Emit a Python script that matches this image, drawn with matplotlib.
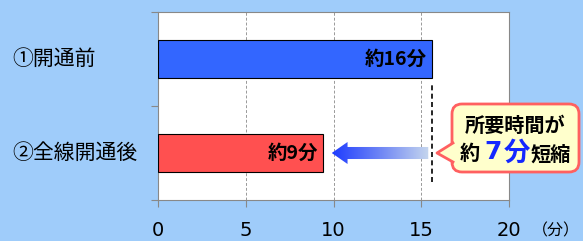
import numpy as np
import matplotlib
matplotlib.use("Agg")
import matplotlib.pyplot as plt
import matplotlib.transforms as mtransforms
from matplotlib.patches import FancyBboxPatch, Polygon
from matplotlib.colors import LinearSegmentedColormap

plt.rcParams['font.family'] = ['Noto Sans CJK JP', 'DejaVu Sans']

# data
categories = ['①開通前', '②全線開通後']
minutes = [15.6, 9.4]
bar_labels = ['約16分', '約9分']
bar_colors = ['#3366FF', '#FF5050']
xticks = [0, 5, 10, 15, 20]

BG = '#9FCCFA'
W, H = 583, 241

fig = plt.figure(figsize=(W / 100, H / 100), dpi=100, facecolor=BG)
ax = fig.add_axes([158 / W, 1 - 200 / H, (509 - 158) / W, (200 - 12) / H])
ax.set_facecolor('white')

# pixel coords (from top-left) -> figure
pix = mtransforms.Affine2D().scale(1 / W, -1 / H).translate(0, 1) + fig.transFigure

# first category on top
ypos = [1, 0]
ax.barh(ypos, minutes, height=0.41, color=bar_colors, edgecolor='black',
        linewidth=0.8, zorder=3)
for y, v, lab in zip(ypos, minutes, bar_labels):
    ax.text(v - 0.3, y, lab, ha='right', va='center', fontsize=14,
            fontweight='bold', zorder=4)

ax.set_xlim(0, 20)
ax.set_ylim(-0.5, 1.5)
ax.set_xticks(xticks)
ax.set_xticklabels([str(t) for t in xticks], fontsize=14, family='DejaVu Sans')
ax.set_yticks([-0.5, 0.5, 1.5])
ax.set_yticklabels([])
ax.tick_params(axis='x', length=5, color='#888888', pad=10)
ax.tick_params(axis='y', length=5, color='#888888')
for s in ax.spines.values():
    s.set_color('#888888')
ax.grid(axis='x', color='#999999', linestyle=(0, (3, 2)), linewidth=0.7, zorder=1)

# category labels
lab_tr = mtransforms.blended_transform_factory(pix, ax.transData)
for y, c in zip(ypos, categories):
    ax.text(12, y, c, transform=lab_tr, ha='left', va='center', fontsize=15,
            clip_on=False)

# dashed reference line at "before" value
ax.plot([minutes[0], minutes[0]], [-0.31, 0.755], color='black', linestyle=(0, (3, 2)),
        linewidth=1.2, zorder=4)

# gradient arrow from before value to after value
x0 = minutes[0] - 0.2
x1 = minutes[1] + 0.5
yc = ypos[1]
sh, hh, hl = 0.064, 0.117, 0.9
arrow = Polygon([(x1, yc), (x1 + hl, yc + hh), (x1 + hl, yc + sh), (x0, yc + sh),
                 (x0, yc - sh), (x1 + hl, yc - sh), (x1 + hl, yc - hh)],
                closed=True, facecolor='none', edgecolor='none', transform=ax.transData)
ax.add_patch(arrow)
cmap = LinearSegmentedColormap.from_list('arr', ['#1E3CFF', '#6F86F5', '#C5D6EE'])
grad = np.linspace(0, 1, 256).reshape(1, -1)
im = ax.imshow(grad, cmap=cmap, aspect='auto', extent=[x1, x0, yc - hh, yc + hh],
               zorder=4, interpolation='bilinear')
im.set_clip_path(arrow)
ax.set_xlim(0, 20)
ax.set_ylim(-0.5, 1.5)

# callout box
box = FancyBboxPatch((452, 104), 127, 68, boxstyle='round,pad=0,rounding_size=10',
                     facecolor='#FFFFCC', edgecolor='#FF6060', linewidth=2,
                     transform=pix, clip_on=False)
fig.add_artist(box)
tip = [(437, 153), (454, 143), (454, 162)]
fig.add_artist(Polygon(tip, closed=True, facecolor='#FFFFCC', edgecolor='none',
                       transform=pix, clip_on=False))
fig.add_artist(plt.Line2D([453, 437, 453], [143, 153, 162], color='#FF6060',
                          linewidth=2, transform=pix))

fig.text(515 / W, 1 - 125 / H, '所要時間が', ha='center', va='center', fontsize=14.5,
         fontweight='bold')
fig.text(470 / W, 1 - 154 / H, '約', ha='center', va='center', fontsize=14.5,
         fontweight='bold')
fig.text(493.5 / W, 1 - 152 / H, '7', ha='center', va='center', fontsize=18,
         fontweight='bold', color='#1428FF', family='DejaVu Sans')
fig.text(516.5 / W, 1 - 153 / H, '分', ha='center', va='center', fontsize=19,
         fontweight='bold', color='#1428FF')
fig.text(551 / W, 1 - 154 / H, '短縮', ha='center', va='center', fontsize=14.5,
         fontweight='bold')

fig.text(556 / W, 1 - 231 / H, '（分）', ha='center', va='center', fontsize=11.5)

fig.savefig('out.png', dpi=100, facecolor=BG)
